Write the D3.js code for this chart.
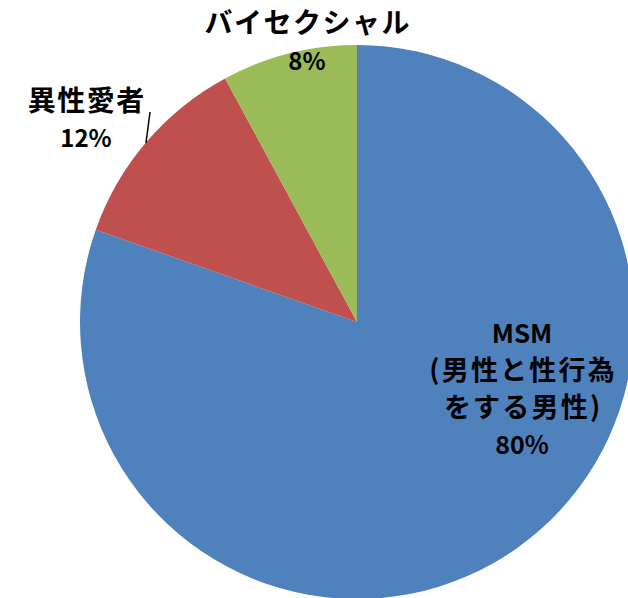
<!DOCTYPE html>
<html>
<head>
<meta charset="utf-8">
<script src="https://cdn.jsdelivr.net/npm/d3@7"></script>
<style>
    body { margin: 0; background: #fff; }
    svg { display: block; }
    text { font-family: "Noto Sans CJK JP", sans-serif; font-weight: bold; fill: #000; }
</style>
</head>
<body>
<script>
// データ (角度から読み取った値、ラベルは四捨五入)
var categories = ['MSM\n(男性と性行為\nをする男性)', '異性愛者', 'バイセクシャル'];
var values = [80.4, 11.7, 7.9];
var colors = ['#4F81BD', '#C0504D', '#9BBB59'];

var width = 628, height = 598;
var cx = 357, cy = 322, radius = 277;

var svg = d3.select('body')
    .append('svg')
    .attr('width', width)
    .attr('height', height);

var pie = d3.pie().sort(null).value(d => d.value);
var arc = d3.arc().innerRadius(0).outerRadius(radius);

var data = categories.map((c, i) => ({ name: c, value: values[i], color: colors[i] }));
var arcs = pie(data);

var g = svg.append('g').attr('transform', `translate(${cx},${cy})`);

g.selectAll('path')
    .data(arcs)
    .enter()
    .append('path')
    .attr('d', arc)
    .attr('fill', d => d.data.color);

var total = d3.sum(values);
function pct(v) {
    return Math.round(v / total * 100) + '%';
}

// ラベル位置 (中心からの相対)、行ごとのフォントサイズと字間
var labelPos = [
    { x: 165, y: 21, lineH: 37, sizes: [26, 27, 27, 25], spacing: [0, 2.2, 2.2, 0] },
    { x: -271, y: -211, lineH: 36, sizes: [28, 24], spacing: [1.5, 0] },
    { x: -50, y: -289, lineH: 37, sizes: [28, 24], spacing: [1.5, 0] }
];

arcs.forEach(function (a, i) {
    var p = labelPos[i];
    var lines = a.data.name.split('\n').concat([pct(a.data.value)]);
    lines.forEach(function (l, j) {
        var sp = p.spacing[j];
        g.append('text')
            .attr('text-anchor', 'middle')
            .attr('x', p.x + sp / 2)
            .attr('y', p.y + j * p.lineH)
            .attr('font-size', p.sizes[j])
            .attr('letter-spacing', sp)
            .text(l);
    });
});

// 引き出し線
g.append('line')
    .attr('x1', 150 - cx)
    .attr('y1', 112 - cy)
    .attr('x2', 146 - cx)
    .attr('y2', 143 - cy)
    .attr('stroke', '#000')
    .attr('stroke-width', 1.5);
</script>
</body>
</html>
